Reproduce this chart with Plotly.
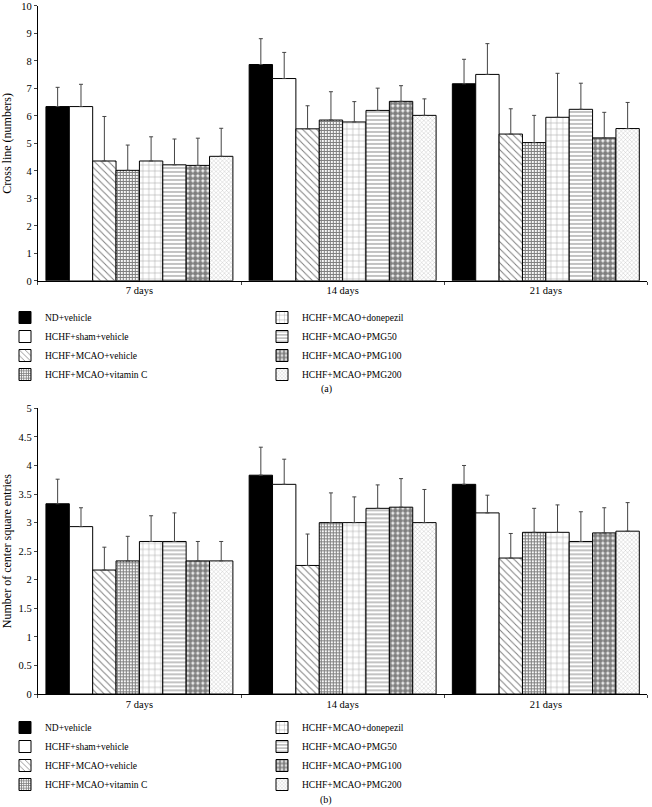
import plotly.graph_objects as go
from plotly.subplots import make_subplots

days = ["7 days", "14 days", "21 days"]

groups = ["ND+vehicle", "HCHF+sham+vehicle", "HCHF+MCAO+vehicle", "HCHF+MCAO+vitamin C",
          "HCHF+MCAO+donepezil", "HCHF+MCAO+PMG50", "HCHF+MCAO+PMG100", "HCHF+MCAO+PMG200"]

# (a) cross line (numbers): mean per group for 7 / 14 / 21 days
cross_nd = [6.34, 7.87, 7.17]
cross_sham = [6.34, 7.36, 7.51]
cross_mcao = [4.36, 5.53, 5.34]
cross_vitc = [4.02, 5.85, 5.03]
cross_done = [4.36, 5.78, 5.95]
cross_pmg50 = [4.22, 6.20, 6.24]
cross_pmg100 = [4.20, 6.53, 5.20]
cross_pmg200 = [4.53, 6.02, 5.54]

cross_nd_err = [0.70, 0.94, 0.89]
cross_sham_err = [0.81, 0.95, 1.12]
cross_mcao_err = [1.62, 0.84, 0.92]
cross_vitc_err = [0.92, 1.03, 0.99]
cross_done_err = [0.88, 0.74, 1.60]
cross_pmg50_err = [0.94, 0.81, 0.95]
cross_pmg100_err = [0.99, 0.57, 0.93]
cross_pmg200_err = [1.02, 0.60, 0.95]

# (b) number of center square entries
center_nd = [3.33, 3.83, 3.67]
center_sham = [2.93, 3.67, 3.17]
center_mcao = [2.17, 2.25, 2.38]
center_vitc = [2.33, 3.00, 2.83]
center_done = [2.67, 3.00, 2.83]
center_pmg50 = [2.67, 3.25, 2.67]
center_pmg100 = [2.33, 3.27, 2.82]
center_pmg200 = [2.33, 3.00, 2.85]

center_nd_err = [0.43, 0.49, 0.33]
center_sham_err = [0.33, 0.44, 0.31]
center_mcao_err = [0.40, 0.55, 0.43]
center_vitc_err = [0.43, 0.52, 0.42]
center_done_err = [0.45, 0.45, 0.48]
center_pmg50_err = [0.50, 0.41, 0.52]
center_pmg100_err = [0.34, 0.50, 0.44]
center_pmg200_err = [0.34, 0.58, 0.50]

cross_vals = [cross_nd, cross_sham, cross_mcao, cross_vitc, cross_done, cross_pmg50, cross_pmg100, cross_pmg200]
cross_errs = [cross_nd_err, cross_sham_err, cross_mcao_err, cross_vitc_err, cross_done_err,
              cross_pmg50_err, cross_pmg100_err, cross_pmg200_err]
center_vals = [center_nd, center_sham, center_mcao, center_vitc, center_done, center_pmg50,
               center_pmg100, center_pmg200]
center_errs = [center_nd_err, center_sham_err, center_mcao_err, center_vitc_err, center_done_err,
               center_pmg50_err, center_pmg100_err, center_pmg200_err]

# fill styles, approximating the black & white hatches of the original
styles = [
    dict(color="black"),
    dict(color="white"),
    dict(color="white", pattern=dict(shape="\\", fgcolor="black", bgcolor="white", size=5, solidity=0.2)),
    dict(color="white", pattern=dict(shape="+", fgcolor="black", bgcolor="white", size=3, solidity=0.6)),
    dict(color="white", pattern=dict(shape="+", fgcolor="#333", bgcolor="white", size=6, solidity=0.15)),
    dict(color="white", pattern=dict(shape="-", fgcolor="#333", bgcolor="white", size=4, solidity=0.3)),
    dict(color="white", pattern=dict(shape=".", fgcolor="black", bgcolor="white", size=5, solidity=0.75)),
    dict(color="white", pattern=dict(shape="x", fgcolor="#555", bgcolor="white", size=3, solidity=0.2)),
]

FONT = "Liberation Serif"

fig = make_subplots(rows=2, cols=1)

for row, vals, errs, lg in [(1, cross_vals, cross_errs, ["legend", "legend2"]),
                            (2, center_vals, center_errs, ["legend3", "legend4"])]:
    for i, name in enumerate(groups):
        fig.add_trace(go.Bar(
            x=days, y=vals[i], name=name,
            marker=dict(line=dict(color="black", width=1), **styles[i]),
            error_y=dict(type="data", array=errs[i], arrayminus=[0, 0, 0], symmetric=False,
                         color="#444", thickness=1, width=2),
            legend=lg[0] if i < 4 else lg[1],
        ), row=row, col=1)

fig.update_layout(
    width=652, height=807,
    margin=dict(l=0, r=0, t=0, b=0),
    template="simple_white",
    font=dict(family=FONT, size=10, color="black"),
    barmode="group", bargap=0.08, bargroupgap=0,
    xaxis=dict(domain=[0.058, 0.993]),
    xaxis2=dict(domain=[0.058, 0.993]),
    yaxis=dict(domain=[0.652, 0.9926], range=[0, 10], dtick=1,
               title=dict(text="Cross line (numbers)", standoff=12)),
    yaxis2=dict(domain=[0.140, 0.494], range=[0, 5], dtick=0.5,
                title=dict(text="Number of center square entries", standoff=6)),
)
for name, x, y in [("legend", 5 / 652, 1 - 303 / 807), ("legend2", 262 / 652, 1 - 303 / 807),
                   ("legend3", 5 / 652, 1 - 713 / 807), ("legend4", 262 / 652, 1 - 713 / 807)]:
    fig.update_layout({name: dict(x=x, y=y, xanchor="left", yanchor="top", orientation="v",
                                  font=dict(family=FONT, size=9.5, color="black"),
                                  bgcolor="rgba(0,0,0,0)", itemwidth=30, tracegroupgap=0)})

fig.update_xaxes(showline=True, linecolor="black", ticks="outside", tickson="boundaries",
                 ticklen=3, automargin=False, tickfont=dict(family=FONT, size=10.5))
fig.update_yaxes(showline=True, linecolor="black", ticks="outside", ticklen=3,
                 automargin=False, ticklabeloverflow="allow", tickfont=dict(family=FONT, size=10.5))

fig.add_annotation(text="(a)", x=0.5, y=1 - 389 / 807, xref="paper", yref="paper", showarrow=False,
                   yanchor="middle", font=dict(family=FONT, size=10))
fig.add_annotation(text="(b)", x=0.5, y=1 - 800 / 807, xref="paper", yref="paper", showarrow=False,
                   yanchor="middle", font=dict(family=FONT, size=10))

fig.write_html("out.html", config={"displayModeBar": False},
               post_script="document.body.style.margin = '0';")
